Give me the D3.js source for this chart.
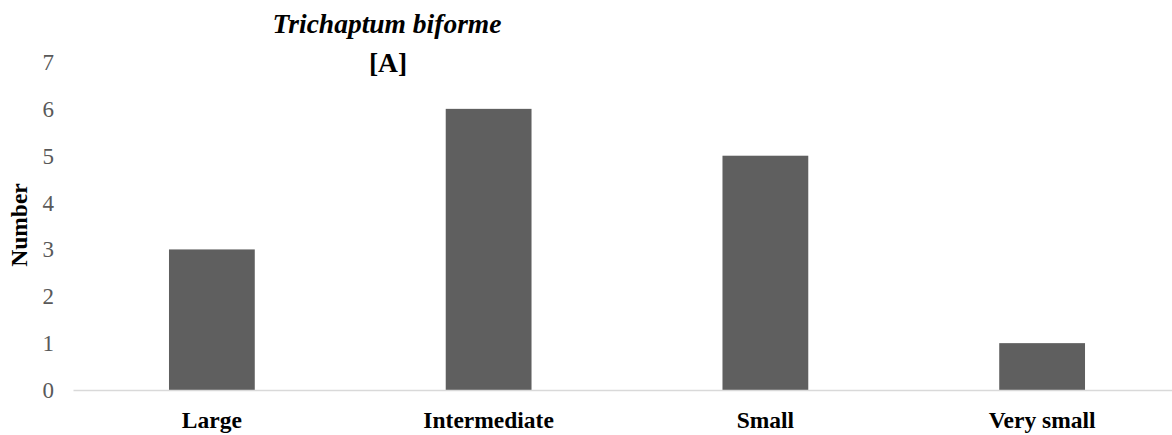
<!DOCTYPE html>
<html>
<head>
<meta charset="utf-8">
<script src="https://cdn.jsdelivr.net/npm/d3@7"></script>
<style>
  body { margin: 0; background: #ffffff; }
  svg { display: block; font-family: "Liberation Serif", "Times New Roman", serif; }
</style>
</head>
<body>
<svg id="chart" width="1172" height="435"></svg>
<script>
// data
const categories = ["Large", "Intermediate", "Small", "Very small"];
const counts = [3, 6, 5, 1];
const yTicks = [0, 1, 2, 3, 4, 5, 6, 7];
const titleLines = ["Trichaptum biforme", "[A]"];

const svg = d3.select("#chart"),
    width = +svg.attr("width"),
    height = +svg.attr("height");

const plotLeft = 73.5, plotRight = 1180.5, plotTop = 62, plotBottom = 390;

const x = d3.scaleBand()
    .domain(categories)
    .range([plotLeft, plotRight])
    .paddingInner(0.69)
    .paddingOuter(0.345);

const y = d3.scaleLinear()
    .domain([0, 7])
    .range([plotBottom, plotTop]);

// Bars
svg.append("g")
    .selectAll("rect")
    .data(categories.map((c, i) => ({ cat: c, value: counts[i] })))
    .join("rect")
    .attr("x", d => x(d.cat))
    .attr("y", d => y(d.value))
    .attr("width", x.bandwidth())
    .attr("height", d => y(0) - y(d.value))
    .attr("fill", "#5f5f5f");

// baseline
svg.append("line")
    .attr("x1", plotLeft)
    .attr("x2", width)
    .attr("y1", y(0) + 0.5)
    .attr("y2", y(0) + 0.5)
    .attr("stroke", "#d9d9d9")
    .attr("stroke-width", 1.5);

// Y axis labels (no axis line)
svg.append("g")
    .selectAll("text")
    .data(yTicks)
    .join("text")
    .attr("x", 54)
    .attr("y", d => y(d))
    .attr("dy", "0.35em")
    .attr("text-anchor", "end")
    .style("font-size", "23px")
    .style("fill", "#595959")
    .text(d => d);

// X axis labels
svg.append("g")
    .selectAll("text")
    .data(categories)
    .join("text")
    .attr("x", d => x(d) + x.bandwidth() / 2)
    .attr("y", 428)
    .attr("text-anchor", "middle")
    .style("font-size", "23.5px")
    .style("font-weight", "bold")
    .style("fill", "#000000")
    .text(d => d);

// Y axis title
svg.append("text")
    .attr("transform", `translate(27,225) rotate(-90)`)
    .attr("text-anchor", "middle")
    .style("font-size", "23.5px")
    .style("font-weight", "bold")
    .text("Number");

// Title
svg.append("text")
    .attr("x", 387)
    .attr("y", 33)
    .attr("text-anchor", "middle")
    .style("font-size", "27.5px")
    .style("font-weight", "bold")
    .style("font-style", "italic")
    .text(titleLines[0]);

svg.append("text")
    .attr("x", 388)
    .attr("y", 72)
    .attr("text-anchor", "middle")
    .style("font-size", "27.5px")
    .style("font-weight", "bold")
    .text(titleLines[1]);
</script>
</body>
</html>
